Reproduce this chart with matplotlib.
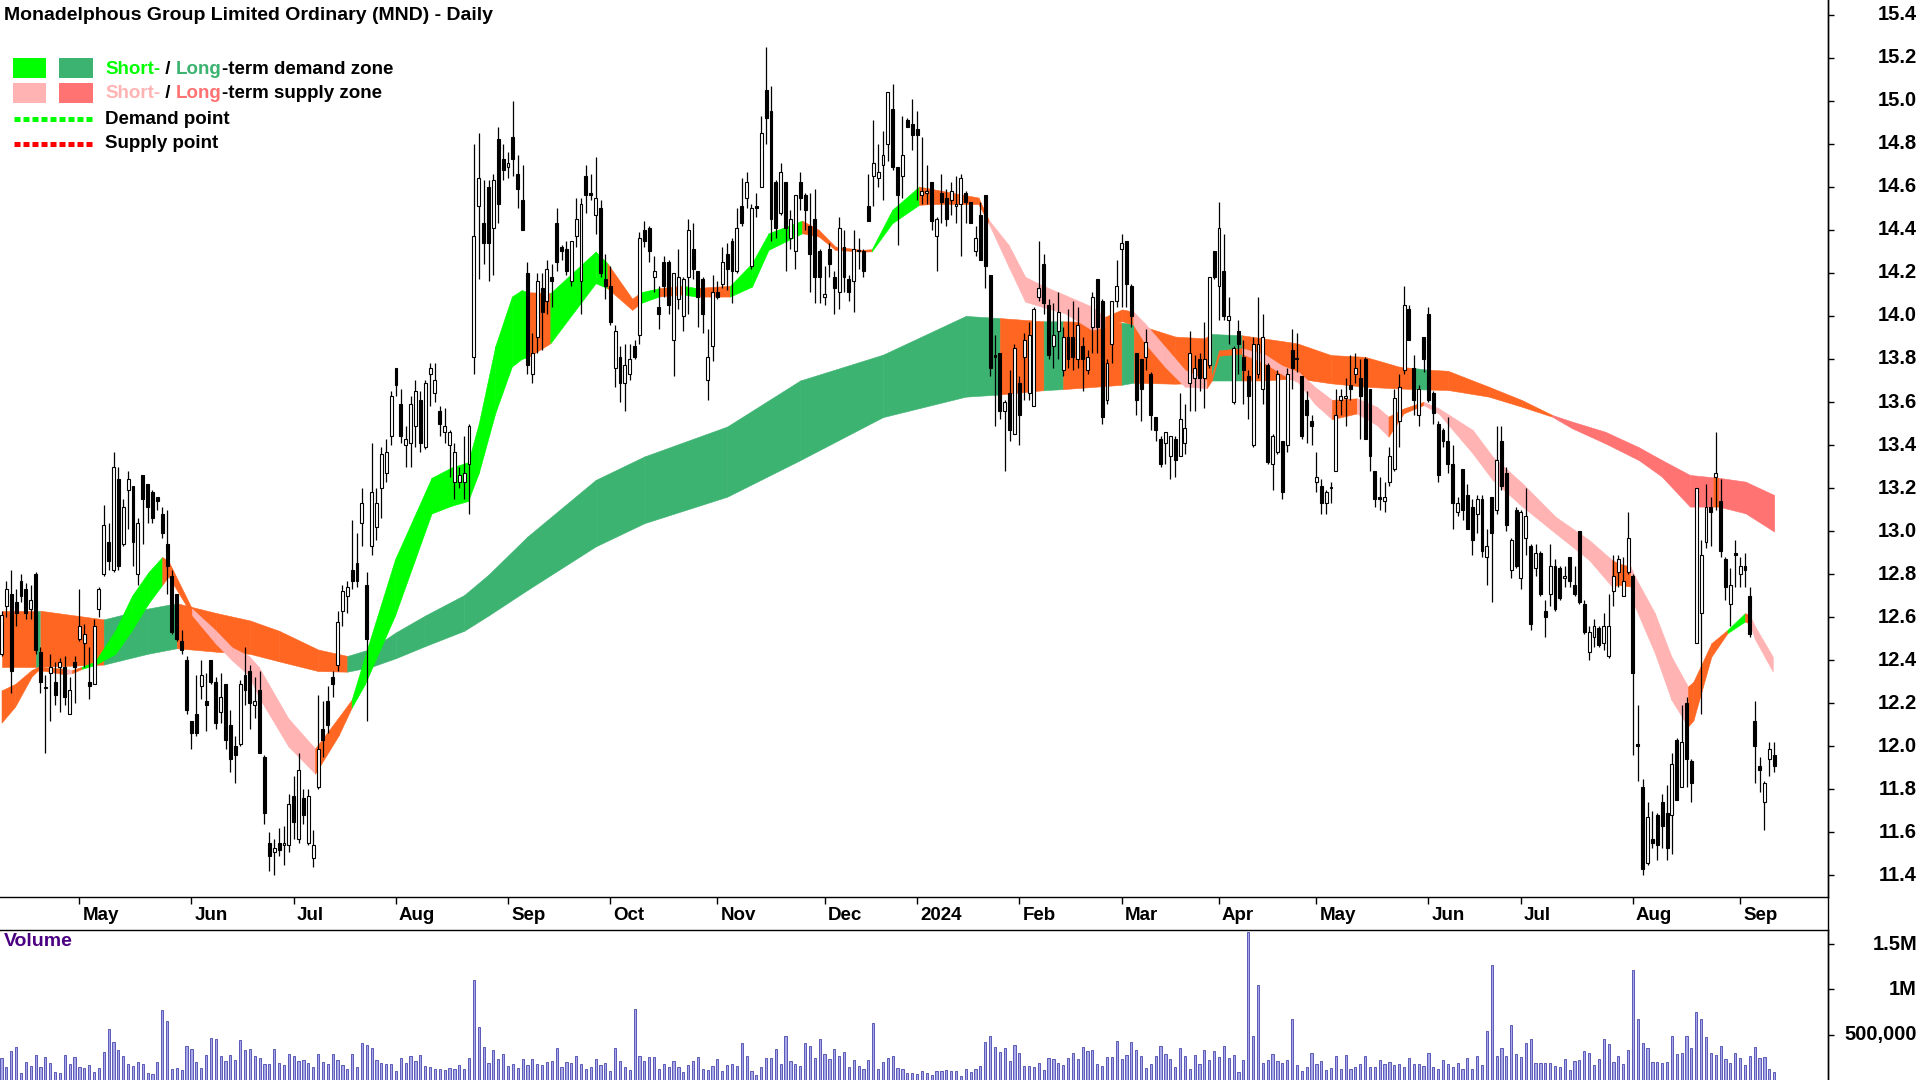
import matplotlib
matplotlib.use("Agg")
import matplotlib.pyplot as plt
import numpy as np
import pandas as pd
from matplotlib.patches import Rectangle
from matplotlib.lines import Line2D
from matplotlib.transforms import ScaledTranslation

plt.rcParams['font.family'] = ['Liberation Sans', 'DejaVu Sans']
plt.rcParams['font.weight'] = 'bold'

TITLE = "Monadelphous Group Limited Ordinary (MND) - Daily"
START, END = "2023-04-04", "2024-09-11"
HOLIDAYS = ["2023-04-07", "2023-04-10", "2023-04-25", "2023-06-12", "2023-12-25",
            "2023-12-26", "2024-01-01", "2024-01-26", "2024-03-29", "2024-04-01",
            "2024-04-25", "2024-06-10"]

opens = [
12.43,12.65,12.71,12.67,12.77,12.73,12.64,12.80,12.44,12.27,
12.34,12.30,12.37,12.37,12.15,12.39,12.50,12.48,12.30,12.29,
12.64,12.80,12.95,12.82,13.24,12.94,13.19,13.21,12.80,13.26,
13.22,13.18,13.16,13.08,12.94,12.79,12.71,12.49,12.40,12.12,
12.15,12.28,12.21,12.40,12.30,12.16,12.29,12.10,12.00,12.01,
12.33,12.35,12.19,12.26,11.95,11.55,11.51,11.55,11.54,11.54,
11.77,11.57,11.76,11.55,11.48,11.81,12.08,12.21,12.32,12.38,
12.63,12.70,12.82,12.85,13.04,12.75,12.93,13.02,13.20,13.27,
13.44,13.76,13.59,13.40,13.41,13.49,13.61,13.39,13.73,13.64,
13.56,13.46,13.40,13.23,13.23,13.23,13.31,13.81,14.51,14.43,
14.60,14.41,14.82,14.73,14.69,14.83,14.66,14.54,14.20,13.73,
13.90,14.13,14.07,14.18,14.43,14.32,14.31,14.16,14.37,14.16,
14.65,14.57,14.47,14.50,14.17,14.14,13.76,13.81,13.69,13.73,
13.86,13.91,14.40,14.41,14.18,14.04,14.25,14.25,13.89,14.08,
14.00,14.18,14.31,14.21,14.17,13.70,13.86,14.11,14.15,14.29,
14.35,14.21,14.51,14.55,14.23,14.51,14.60,15.05,14.95,14.62,
14.48,14.62,14.36,14.30,14.62,14.56,14.42,14.45,14.30,14.09,
14.31,14.18,14.11,14.32,14.17,14.16,14.30,14.30,14.51,14.65,
14.64,14.70,14.80,14.96,14.69,14.65,14.91,14.89,14.87,14.56,
14.57,14.62,14.37,14.57,14.55,14.54,14.51,14.52,14.57,14.53,
14.30,14.47,14.56,14.19,13.82,13.83,13.56,13.64,13.45,13.69,
13.81,13.64,13.58,14.09,14.24,14.05,13.86,13.93,13.75,13.90,
13.90,13.80,13.86,13.75,13.95,14.17,14.07,13.61,13.87,14.07,
14.31,14.35,14.14,13.83,13.80,13.81,13.73,13.53,13.43,13.41,
13.35,13.43,13.35,13.41,13.69,13.71,13.80,13.71,13.77,14.30,
14.14,14.21,13.98,13.60,13.93,13.81,13.72,13.40,13.73,13.66,
13.77,13.31,13.37,13.42,13.40,13.84,13.80,13.72,13.61,13.51,
13.23,13.21,13.13,13.20,13.28,13.61,13.62,13.68,13.73,13.71,
13.80,13.66,13.28,13.16,13.14,13.23,13.29,13.51,13.75,14.03,
13.76,13.54,13.90,14.01,13.64,13.50,13.47,13.42,13.31,13.09,
13.29,13.17,13.11,13.08,13.15,12.88,13.16,13.10,13.42,13.27,
12.82,13.10,12.78,12.97,12.93,12.83,12.90,12.63,12.71,12.84,
12.83,12.78,12.88,12.75,13.00,12.66,12.44,12.51,12.55,12.48,
12.42,12.72,12.81,12.70,12.81,12.79,12.01,11.81,11.46,11.57,
11.68,11.74,11.69,11.68,12.03,11.81,12.20,11.93,12.48,12.62,
12.95,13.11,13.25,13.14,12.87,12.66,12.90,12.80,12.84,12.70,
12.12,11.91,11.74,11.94,11.96]

highs = [
12.63,12.77,12.82,12.73,12.80,12.76,12.75,12.81,12.46,12.33,
12.43,12.39,12.41,12.42,12.32,12.42,12.73,12.57,12.46,12.59,
12.74,13.12,13.04,13.37,13.30,13.15,13.28,13.21,13.06,13.26,
13.22,13.19,13.16,13.11,13.10,12.82,12.71,12.54,12.42,12.12,
12.33,12.40,12.34,12.40,12.32,12.34,12.29,12.17,12.05,12.31,
12.46,12.38,12.32,12.35,11.96,11.60,11.57,11.62,11.63,11.78,
11.86,11.97,11.80,11.80,11.61,12.24,12.21,12.28,12.35,12.63,
12.75,12.77,13.05,12.99,13.20,12.81,13.41,13.20,13.39,13.43,
13.65,13.76,13.66,13.49,13.63,13.70,13.65,13.70,13.78,13.78,
13.58,13.57,13.47,13.41,13.30,13.44,13.50,14.80,14.85,14.63,
14.63,14.66,14.88,14.80,14.76,15.00,14.75,14.70,14.25,13.92,
14.20,14.20,14.26,14.24,14.50,14.33,14.35,14.35,14.55,14.55,
14.70,14.66,14.74,14.54,14.29,14.23,13.96,13.86,13.87,13.87,
13.89,14.39,14.44,14.42,14.28,14.14,14.28,14.26,14.20,14.31,
14.18,14.45,14.43,14.21,14.18,13.94,14.19,14.16,14.32,14.34,
14.36,14.50,14.64,14.67,14.52,14.57,14.93,15.25,15.07,14.63,
14.71,14.62,14.49,14.56,14.67,14.57,14.57,14.59,14.31,14.23,
14.34,14.21,14.46,14.40,14.19,14.40,14.36,14.31,14.66,14.91,
14.80,14.86,15.04,15.08,14.69,14.93,14.92,15.01,14.95,14.83,
14.70,14.62,14.46,14.66,14.59,14.62,14.65,14.66,14.58,14.53,
14.42,14.53,14.56,14.19,13.91,13.83,13.61,13.75,13.87,13.72,
13.92,13.97,14.04,14.35,14.29,14.08,14.06,14.11,13.95,14.03,
14.07,14.04,13.90,13.84,14.11,14.17,14.08,13.80,14.07,14.26,
14.38,14.35,14.15,13.83,13.80,13.94,13.74,13.53,13.44,13.46,
13.44,13.44,13.64,13.59,13.93,13.82,13.83,13.97,14.18,14.30,
14.53,14.38,14.09,13.86,13.98,13.89,13.75,13.90,14.09,14.01,
13.78,13.45,13.75,13.42,13.76,13.94,13.92,13.72,13.65,13.54,
13.37,13.24,13.19,13.23,13.66,13.66,13.71,13.82,13.83,13.80,
13.81,13.66,13.28,13.25,13.23,13.39,13.66,13.73,14.14,14.05,
13.82,13.68,13.90,14.04,13.65,13.51,13.48,13.53,13.40,13.16,
13.29,13.22,13.15,13.17,13.17,13.01,13.16,13.49,13.49,13.30,
12.97,13.11,13.10,13.20,12.94,12.94,12.91,12.68,12.94,12.87,
12.84,12.84,12.88,12.84,13.00,12.68,12.56,12.59,12.56,12.62,
12.71,12.89,12.89,12.88,13.09,12.80,12.19,11.85,11.74,11.70,
11.69,11.78,11.82,11.97,12.04,12.19,12.23,11.94,13.20,12.96,
13.22,13.16,13.46,13.24,12.88,12.83,12.96,12.88,12.90,12.74,
12.21,11.95,11.84,12.02,12.02]

lows = [
12.42,12.60,12.25,12.56,12.67,12.59,12.59,12.43,12.25,11.97,
12.12,12.19,12.16,12.19,12.15,12.20,12.49,12.37,12.22,12.29,
12.60,12.79,12.82,12.81,12.82,12.93,13.01,12.84,12.75,12.94,
13.04,13.04,13.10,12.97,12.71,12.52,12.49,12.43,12.15,11.99,
12.05,12.22,12.07,12.29,12.08,12.11,11.99,11.88,11.83,12.00,
12.19,12.08,12.13,11.97,11.64,11.42,11.40,11.49,11.45,11.51,
11.57,11.55,11.64,11.54,11.44,11.80,11.95,12.06,12.23,12.35,
12.56,12.62,12.73,12.74,12.93,12.12,12.89,12.96,13.06,13.23,
13.40,13.63,13.41,13.30,13.30,13.39,13.37,13.38,13.58,13.60,
13.44,13.41,13.25,13.15,13.20,13.15,13.08,13.73,14.17,14.24,
14.16,14.19,14.43,14.63,14.64,14.65,14.50,14.40,13.73,13.69,
13.83,13.84,14.01,14.04,14.21,14.26,14.19,14.14,14.32,14.01,
14.48,14.54,14.38,14.18,14.08,13.96,13.67,13.60,13.56,13.70,
13.80,13.87,14.32,14.25,14.11,13.94,14.09,14.01,13.72,14.03,
13.93,14.01,14.17,13.95,13.92,13.61,13.79,14.08,14.13,14.12,
14.06,14.20,14.42,14.50,14.22,14.46,14.60,14.80,14.35,14.36,
14.47,14.21,14.31,14.22,14.49,14.40,14.11,14.06,14.06,14.05,
14.18,14.01,14.03,14.11,14.07,14.02,14.22,14.18,14.44,14.51,
14.60,14.54,14.72,14.68,14.33,14.55,14.88,14.77,14.54,14.52,
14.52,14.40,14.21,14.43,14.42,14.47,14.43,14.28,14.43,14.43,
14.28,14.26,14.13,13.72,13.49,13.52,13.28,13.42,13.45,13.40,
13.61,13.61,13.58,14.07,14.01,13.80,13.76,13.80,13.72,13.76,
13.75,13.76,13.65,13.73,13.83,13.83,13.50,13.59,13.78,14.04,
14.04,14.04,13.95,13.54,13.51,13.75,13.47,13.42,13.30,13.31,
13.24,13.25,13.35,13.36,13.56,13.56,13.65,13.57,13.76,14.17,
13.98,13.98,13.87,13.59,13.73,13.59,13.52,13.39,13.71,13.59,
13.31,13.19,13.36,13.15,13.37,13.66,13.74,13.43,13.41,13.40,
13.18,13.08,13.08,13.13,13.28,13.54,13.49,13.61,13.69,13.43,
13.43,13.28,13.11,13.10,13.09,13.21,13.28,13.39,13.73,13.89,
13.54,13.49,13.74,13.60,13.50,13.23,13.39,13.27,13.01,13.07,
13.05,13.01,12.89,12.99,12.88,12.75,12.67,13.08,13.19,13.00,
12.78,12.83,12.73,12.89,12.54,12.79,12.70,12.51,12.65,12.63,
12.68,12.74,12.74,12.70,12.66,12.52,12.40,12.46,12.46,12.45,
12.41,12.65,12.74,12.70,12.80,11.96,11.84,11.40,11.45,11.53,
11.47,11.53,11.47,11.50,11.75,11.81,11.81,11.74,12.48,12.15,
12.92,12.93,13.10,12.88,12.68,12.56,12.74,12.74,12.74,12.51,
11.83,11.79,11.61,11.86,11.88]

closes = [
12.61,12.73,12.35,12.62,12.70,12.62,12.68,12.45,12.30,12.27,
12.37,12.24,12.39,12.23,12.26,12.37,12.56,12.52,12.28,12.56,
12.73,13.03,12.86,13.30,12.84,13.11,13.24,12.95,13.04,13.15,
13.11,13.06,13.14,12.99,12.84,12.53,12.50,12.45,12.17,12.06,
12.06,12.33,12.19,12.30,12.11,12.23,12.03,11.94,11.96,12.29,
12.26,12.20,12.21,11.97,11.69,11.49,11.53,11.52,11.55,11.73,
11.65,11.89,11.68,11.77,11.54,11.99,12.03,12.10,12.29,12.58,
12.72,12.74,12.77,12.77,13.13,12.50,13.18,13.13,13.36,13.37,
13.63,13.68,13.44,13.43,13.59,13.65,13.41,13.69,13.76,13.70,
13.50,13.49,13.46,13.37,13.26,13.27,13.49,14.37,14.64,14.34,
14.34,14.63,14.52,14.68,14.71,14.73,14.59,14.40,13.77,13.83,
14.16,14.02,14.22,14.16,14.25,14.30,14.21,14.35,14.45,14.52,
14.56,14.56,14.55,14.20,14.14,13.97,13.93,13.69,13.77,13.80,
13.81,14.36,14.35,14.30,14.21,14.01,14.14,14.05,14.20,14.18,
14.17,14.40,14.22,14.09,14.01,13.81,14.11,14.09,14.25,14.22,
14.21,14.41,14.43,14.62,14.50,14.50,14.85,14.92,14.45,14.41,
14.67,14.41,14.45,14.56,14.55,14.49,14.29,14.18,14.18,14.10,
14.24,14.13,14.41,14.18,14.11,14.31,14.30,14.21,14.44,14.71,
14.67,14.75,15.04,14.69,14.56,14.75,14.88,14.84,14.84,14.58,
14.58,14.44,14.45,14.53,14.45,14.58,14.52,14.64,14.53,14.43,
14.36,14.26,14.23,13.76,13.81,13.56,13.60,13.47,13.85,13.54,
13.89,13.91,14.03,14.13,14.06,13.82,13.91,14.02,13.90,13.80,
13.81,13.96,13.80,13.81,14.09,13.95,13.53,13.78,14.07,14.14,
14.34,14.15,14.00,13.61,13.66,13.88,13.54,13.47,13.31,13.46,
13.44,13.33,13.52,13.48,13.83,13.76,13.71,13.80,14.18,14.18,
14.41,14.00,14.00,13.85,13.87,13.75,13.63,13.87,13.87,13.90,
13.32,13.44,13.73,13.18,13.73,13.76,13.80,13.44,13.54,13.49,
13.25,13.13,13.18,13.20,13.54,13.63,13.63,13.66,13.76,13.63,
13.43,13.35,13.15,13.15,13.16,13.35,13.62,13.67,14.05,13.89,
13.61,13.66,13.80,13.61,13.55,13.26,13.42,13.31,13.13,13.13,
13.10,13.01,12.96,13.15,12.91,12.93,12.99,13.33,13.21,13.03,
12.96,12.84,13.09,13.07,12.57,12.90,12.71,12.60,12.84,12.64,
12.69,12.79,12.77,12.71,12.67,12.53,12.53,12.56,12.47,12.56,
12.56,12.79,12.87,12.77,12.97,12.34,12.00,11.43,11.67,11.55,
11.54,11.63,11.53,11.92,11.75,12.02,11.94,11.83,13.20,12.89,
13.11,13.09,13.27,12.91,12.74,12.75,12.89,12.84,12.82,12.52,
12.00,11.89,11.83,11.99,11.91]

# daily volume, thousands of shares
volume_k = [
243,147,320,368,77,199,155,276,147,254,
188,85,77,276,177,254,147,132,166,92,
132,313,563,419,331,265,177,155,199,177,
77,66,199,776,651,121,132,110,375,342,
199,132,276,464,453,265,210,276,221,441,
331,342,265,243,177,177,342,188,166,287,
265,210,221,188,143,287,199,177,287,221,
166,121,287,143,408,386,353,221,188,177,
177,99,243,188,265,210,276,155,143,121,
121,110,132,121,166,121,243,1104,585,364,
188,331,232,287,155,177,132,232,166,232,
177,166,199,210,353,143,199,188,265,177,
121,143,232,166,188,99,353,210,143,110,
784,265,210,254,254,121,177,143,210,143,
88,166,210,254,121,110,155,232,99,166,
177,155,408,265,99,55,143,243,243,342,
177,486,210,177,155,408,375,243,453,287,
232,342,265,309,143,221,155,121,221,629,
121,199,243,265,132,
121,77,77,66,99,77,55,99,99,110,
99,99,44,121,88,121,155,419,486,364,
309,353,210,386,298,155,155,143,188,110,
243,232,188,166,243,298,232,364,320,331,
177,155,254,254,430,232,276,419,331,265,
132,177,265,375,287,232,143,353,265,121,
276,177,331,221,320,254,375,243,276,88,
221,1637,486,1049,188,221,287,210,188,221,
673,166,99,143,298,177,210,110,132,265,
121,276,121,143,177,265,143,143,221,177,
199,166,177,143,243,177,177,155,298,143,
121,221,177,143,188,121,243,121,265,166,
541,1269,265,353,265,607,287,254,408,453,
188,188,188,188,155,143,232,110,210,221,
320,298,166,232,453,397,199,265,177,331,
1214,673,408,353,199,199,188,199,486,287,
298,486,353,751,673,475,298,276,375,232,
188,298,243,166,265,364,243,254,121,88]

# short-term zone (trading-day index, upper, lower, zone code for the following stretch)
st_x = [0, 2.8, 6.2, 7.6, 13, 14.5, 16.5, 19.2, 23.4, 26.8,
        30.2, 33, 34.3, 39.1, 43.9, 47.3, 50.8, 52.8, 58.9, 64.4,
        69.2, 71.9, 74.6, 80.8, 88.3, 92.4, 95.8, 98, 101.4, 104.8,
        106.8, 108.2, 112.7, 122, 124.4, 129.5, 131.3, 135, 139.9, 142.6,
        149.6, 154.1, 157.5, 164.4, 167.8, 171.2, 176.7, 178.7, 182.9, 188.4,
        191, 200.6, 202.7, 206.8, 210.2, 213.6, 218.4, 223.9, 226.6, 230.1,
        232.4, 234.8, 238.9, 243, 247.5, 248.5, 250, 254.7, 259.5, 262.9,
        266.3, 269.7, 273.2, 278.3, 282.4, 284.8, 287.9, 292, 295.1, 302.1,
        306.2, 312.3, 319.1, 326, 330.7, 332, 334.5, 335.4, 339.5, 342.9,
        346.3, 347.4, 351.1, 354.4, 358, 359, 360, 363.7]
st_hi = [12.26, 12.29, 12.355, 12.37, 12.36, 12.355, 12.37, 12.394, 12.54, 12.70,
         12.81, 12.88, 12.86, 12.64, 12.54, 12.46, 12.42, 12.37, 12.13, 11.99,
         12.134, 12.217, 12.418, 12.869, 13.248, 13.296, 13.32, 13.50, 13.86, 14.09,
         14.12, 14.11, 14.106, 14.299, 14.245, 14.08, 14.11, 14.129, 14.14, 14.13,
         14.14, 14.245, 14.384, 14.443, 14.40, 14.322, 14.307, 14.31, 14.493, 14.601,
         14.59, 14.55, 14.446, 14.33, 14.182, 14.143, 14.097, 14.043, 13.996, 14.03,
         14.02, 13.965, 13.857, 13.749, 13.70, 13.72, 13.84, 13.85, 13.82, 13.77,
         13.74, 13.67, 13.61, 13.617, 13.578, 13.532, 13.57, 13.601, 13.571, 13.47,
         13.346, 13.222, 13.067, 12.959, 12.866, 12.85, 12.835, 12.789, 12.619, 12.417,
         12.278, 12.30, 12.479, 12.541, 12.619, 12.61, 12.56, 12.417]
st_lo = [12.11, 12.185, 12.325, 12.355, 12.335, 12.34, 12.36, 12.378, 12.43, 12.54,
         12.665, 12.75, 12.79, 12.61, 12.48, 12.40, 12.33, 12.23, 12.00, 11.873,
         12.05, 12.18, 12.288, 12.608, 13.082, 13.118, 13.14, 13.27, 13.55, 13.765,
         13.80, 13.81, 13.873, 14.152, 14.129, 14.028, 14.06, 14.09, 14.10, 14.09,
         14.09, 14.136, 14.307, 14.384, 14.369, 14.307, 14.299, 14.30, 14.431, 14.516,
         14.52, 14.52, 14.43, 14.229, 14.066, 14.043, 14.012, 13.935, 13.95, 13.975,
         13.96, 13.873, 13.764, 13.671, 13.665, 13.70, 13.815, 13.825, 13.78, 13.73,
         13.69, 13.59, 13.52, 13.547, 13.493, 13.439, 13.547, 13.586, 13.547, 13.361,
         13.237, 13.114, 12.99, 12.866, 12.742, 12.75, 12.743, 12.65, 12.433, 12.216,
         12.092, 12.12, 12.417, 12.526, 12.58, 12.57, 12.50, 12.348]
st_zone = ("OOOOpOgggg" "gOOppppppO" "Oggggggggg" "gOggOOgOgO" "gggOOOOggO"
           "OOppppppOO" "ppppOOOppp" "ppOppOOppp" "ppppOOpppp" "OOOgOpp-")

# long-term zone
lt_x = [0, 7, 8, 21, 30, 36, 44, 51, 57, 65,
        71, 76, 81, 87, 95, 100, 108, 122, 132, 149,
        164, 181, 198, 205, 214, 218, 230, 232.5, 241, 247,
        248.5, 254.7, 259, 266, 273, 280, 287, 290.3, 293, 297,
        305.4, 312.2, 318.4, 322.5, 329.3, 336.2, 340.9, 346.7, 351.5, 352.6,
        358.1, 364]
lt_hi = [12.63, 12.63, 12.63, 12.59, 12.64, 12.665, 12.62, 12.585, 12.537, 12.45,
         12.42, 12.454, 12.53, 12.608, 12.703, 12.798, 12.975, 13.238, 13.347, 13.486,
         13.70, 13.82, 14.0, 13.99, 13.975, 13.975, 13.968, 13.965, 13.904, 13.896,
         13.916, 13.91, 13.896, 13.873, 13.818, 13.81, 13.764, 13.757, 13.75, 13.745,
         13.671, 13.609, 13.54, 13.509, 13.462, 13.39, 13.331, 13.261, 13.25, 13.248,
         13.23, 13.168]
lt_lo = [12.37, 12.37, 12.37, 12.38, 12.43, 12.456, 12.44, 12.43, 12.395, 12.35,
         12.347, 12.37, 12.41, 12.466, 12.537, 12.608, 12.727, 12.929, 13.037, 13.16,
         13.33, 13.53, 13.625, 13.635, 13.655, 13.66, 13.68, 13.69, 13.685, 13.69,
         13.70, 13.70, 13.70, 13.71, 13.687, 13.671, 13.663, 13.66, 13.658, 13.656,
         13.625, 13.578, 13.532, 13.478, 13.408, 13.33, 13.254, 13.114, 13.114, 13.114,
         13.083, 12.998]
lt_zone = "OGOGGOOOOO" "GGGGGGGGGG" "GGGOGOGOOO" "GOOOOOOGOO" "OORRRRRROR" "R-"

price_ticks = [11.4, 11.6, 11.8, 12.0, 12.2, 12.4, 12.6, 12.8, 13.0, 13.2,
               13.4, 13.6, 13.8, 14.0, 14.2, 14.4, 14.6, 14.8, 15.0, 15.2, 15.4]
vol_ticks = [500000, 1000000, 1500000]
vol_tick_labels = ['500,000', '1M', '1.5M']

ZONE_COLORS = {'g': '#00FF00', 'G': '#3CB371', 'p': '#FFB3B3', 'R': '#FF7373', 'O': '#FF6622'}

n = min(len(opens), len(highs), len(lows), len(closes), len(volume_k))
O = np.array(opens[:n]); H = np.array(highs[:n]); L = np.array(lows[:n]); C = np.array(closes[:n])
V = np.array(volume_k[:n]) * 1000.0
x = np.arange(n)

dates = pd.bdate_range(START, END, freq='C', holidays=HOLIDAYS)[:n]
months = dates.to_period('M')
tick_pos = [k for k in range(1, len(dates)) if months[k] != months[k - 1]]
tick_lab = [str(dates[k].year) if dates[k].month == 1 else dates[k].strftime('%b') for k in tick_pos]

W, Hh = 1920, 1080
fig = plt.figure(figsize=(W / 100, Hh / 100), dpi=100)
fig.patch.set_facecolor('white')

AX_R = 1828
ax = fig.add_axes([0, 1 - 897 / Hh, AX_R / W, 897 / Hh])
axv = fig.add_axes([0, 0, AX_R / W, 150 / Hh])

XL = (-0.31, 375.05)

def draw_zone(a, bx, hi, lo, codes, z):
    for k in range(len(bx) - 1):
        col = ZONE_COLORS[codes[k]]
        a.fill_between(bx[k:k + 2], lo[k:k + 2], hi[k:k + 2], facecolor=col,
                       edgecolor=col, linewidth=0.4, zorder=z)

draw_zone(ax, lt_x, lt_hi, lt_lo, lt_zone, 1)
draw_zone(ax, st_x, st_hi, st_lo, st_zone, 2)

up = C >= O
bot = np.minimum(O, C)
hgt = np.maximum(np.abs(C - O), 0.006)
ax.vlines(x, L, H, color='black', linewidth=0.9, zorder=3)
ax.bar(x[up], hgt[up], bottom=bot[up], width=0.6, facecolor='white',
       edgecolor='black', linewidth=0.8, zorder=4)
ax.bar(x[~up], hgt[~up], bottom=bot[~up], width=0.6, facecolor='black',
       edgecolor='black', linewidth=0.8, zorder=4)

ax.set_xlim(*XL)
ax.set_ylim(11.30, 15.468)
ax.set_yticks(price_ticks)
ax.yaxis.tick_right()
ax.tick_params(axis='y', direction='out', length=4, width=1, labelright=False)
ax.set_xticks(tick_pos)
ax.set_xticklabels(tick_lab)
ax.tick_params(axis='x', direction='out', length=5, width=1, labelsize=13.5, pad=2)
off = ScaledTranslation(3 / 100, 0, fig.dpi_scale_trans)
for lab in ax.get_xticklabels():
    lab.set_horizontalalignment('left')
    lab.set_transform(lab.get_transform() + off)
    lab.set_fontweight('bold')
for s in ['left', 'top']:
    ax.spines[s].set_visible(False)
for s in ['right', 'bottom']:
    ax.spines[s].set_linewidth(1.0)

axv.bar(x, V, width=0.45, facecolor='#A8A8E6', edgecolor='#5A5AB8', linewidth=0.7)
axv.set_xlim(*XL)
axv.set_ylim(0, 1.656e6)
axv.set_xticks([])
axv.set_yticks(vol_ticks)
axv.yaxis.tick_right()
axv.tick_params(axis='y', direction='out', length=4, width=1, labelright=False)
for s in ['left', 'bottom']:
    axv.spines[s].set_visible(False)
for s in ['right', 'top']:
    axv.spines[s].set_linewidth(1.0)

# overlay in pixel coordinates for title, legend, axis labels and separators
ao = fig.add_axes([0, 0, 1, 1], zorder=10)
ao.set_xlim(0, W)
ao.set_ylim(Hh, 0)
ao.axis('off')
ao.add_line(Line2D([AX_R, AX_R], [0, Hh], color='black', linewidth=1.0))

# right-aligned value labels, placed at the axes' own tick positions
for v in price_ticks:
    ypix = Hh - ax.transData.transform((0, v))[1]
    ao.text(1917, ypix, f"{v:.1f}", fontsize=14.5, fontweight='bold', ha='right', va='center')
for v, s in zip(vol_ticks, vol_tick_labels):
    ypix = Hh - axv.transData.transform((0, v))[1]
    ao.text(1917, ypix, s, fontsize=14.5, fontweight='bold', ha='right', va='center')

ao.text(4, 15, TITLE, fontsize=14, fontweight='bold', va='center', ha='left', color='black')

ao.add_patch(Rectangle((13, 58), 33, 20, facecolor=ZONE_COLORS['g'], edgecolor='none'))
ao.add_patch(Rectangle((59, 58), 34, 20, facecolor=ZONE_COLORS['G'], edgecolor='none'))
ao.add_patch(Rectangle((13, 83), 33, 20, facecolor=ZONE_COLORS['p'], edgecolor='none'))
ao.add_patch(Rectangle((59, 83), 34, 20, facecolor=ZONE_COLORS['R'], edgecolor='none'))
ao.add_line(Line2D([14, 92], [119, 119], color='#00FF00', linewidth=3.6,
                   linestyle=(0, (1.2, 0.6)), solid_capstyle='butt', dash_capstyle='butt'))
ao.add_line(Line2D([14, 92], [144, 144], color='#FF0000', linewidth=3.6,
                   linestyle=(0, (1.2, 0.6)), solid_capstyle='butt', dash_capstyle='butt'))

fig.canvas.draw()
renderer = fig.canvas.get_renderer()

def rich_line(x0, y0, parts, fs=13.5):
    xx = x0
    for txt, col in parts:
        t = ao.text(xx, y0, txt, fontsize=fs, fontweight='bold', color=col,
                    va='center', ha='left')
        bb = t.get_window_extent(renderer=renderer)
        xx += bb.width

rich_line(105, 69, [("Short-", ZONE_COLORS['g']), (" / ", 'black'), ("Long", ZONE_COLORS['G']),
                    ("-term demand zone", 'black')])
rich_line(105, 94, [("Short-", ZONE_COLORS['p']), (" / ", 'black'), ("Long", ZONE_COLORS['R']),
                    ("-term supply zone", 'black')])
ao.text(105, 120, "Demand point", fontsize=13.5, fontweight='bold', va='center', ha='left')
ao.text(105, 144, "Supply point", fontsize=13.5, fontweight='bold', va='center', ha='left')

ao.text(4, 941, "Volume", fontsize=14, fontweight='bold', va='center', ha='left', color='#4B0082')

fig.savefig("out.png", dpi=100, facecolor='white')
